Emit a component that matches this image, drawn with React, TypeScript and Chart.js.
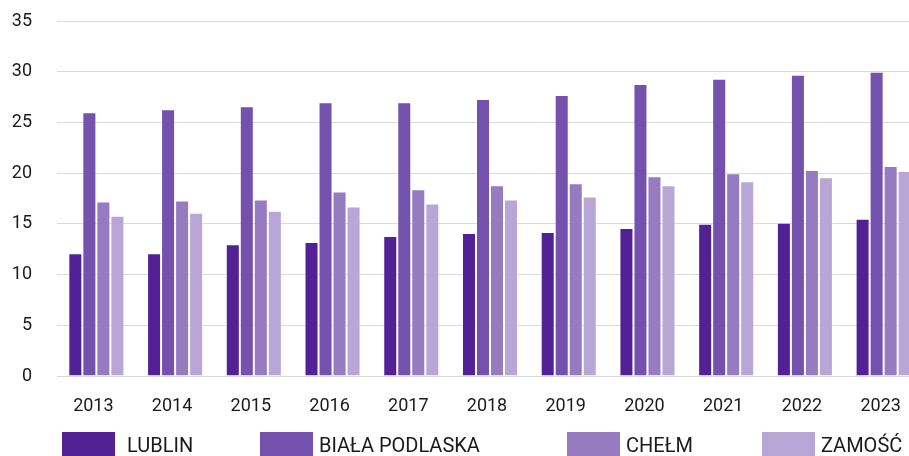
import React, { useEffect, useRef } from "react";
import { Chart, registerables } from "chart.js";

Chart.register(...registerables);

const years = ["2013", "2014", "2015", "2016", "2017", "2018", "2019", "2020", "2021", "2022", "2023"];
const lublin = [12.1, 12.1, 13.0, 13.2, 13.8, 14.1, 14.2, 14.6, 15.0, 15.1, 15.5];
const bialaPodlaska = [26.0, 26.3, 26.6, 27.0, 27.0, 27.3, 27.7, 28.8, 29.3, 29.7, 30.0];
const chelm = [17.2, 17.3, 17.4, 18.2, 18.4, 18.8, 19.0, 19.7, 20.0, 20.3, 20.7];
const zamosc = [15.8, 16.1, 16.3, 16.7, 17.0, 17.4, 17.7, 18.8, 19.2, 19.6, 20.2];
const seriesNames = ["LUBLIN", "BIAŁA PODLASKA", "CHEŁM", "ZAMOŚĆ"];
const seriesColors = ["#522196", "#7451ac", "#967bc0", "#b8a7d6"];
const yTicks = [0, 5, 10, 15, 20, 25, 30, 35];

const legendBoxLeft = [62, 260, 567, 762];
const legendTextGap = [65, 59, 59, 59];

const FONT = "Roboto, 'Noto Sans', sans-serif";

export default function App() {
  const canvasRef = useRef<HTMLCanvasElement | null>(null);

  useEffect(() => {
    if (!canvasRef.current) return;
    const seriesValues = [lublin, bialaPodlaska, chelm, zamosc];
    const chart = new Chart(canvasRef.current, {
      type: "bar",
      data: {
        labels: years,
        datasets: seriesNames.map((name, i) => ({
          label: name,
          data: seriesValues[i],
          backgroundColor: seriesColors[i],
          borderColor: "rgba(255,255,255,0.35)",
          borderWidth: 1,
          categoryPercentage: 0.712,
          barPercentage: 1.0,
        })),
      },
      options: {
        animation: false,
        responsive: true,
        maintainAspectRatio: false,
        layout: { padding: { top: 21, left: 0, right: 0, bottom: 0 } },
        plugins: {
          legend: { display: false },
          tooltip: { enabled: false },
        },
        scales: {
          x: {
            grid: { display: false, drawTicks: false },
            border: { display: false },
            ticks: {
              color: "#1a1a1a",
              font: { family: FONT, size: 18 },
              padding: 20,
              labelOffset: -3,
              maxRotation: 0,
              autoSkip: false,
            },
            afterFit: (scale: any) => {
              scale.height = 80;
              scale.paddingLeft = 0;
              scale.paddingRight = 0;
            },
          },
          y: {
            min: 0,
            max: 35,
            afterBuildTicks: (scale: any) => {
              scale.ticks = yTicks.map((v) => ({ value: v }));
            },
            grid: { color: "#dadada", lineWidth: 1, drawTicks: false },
            border: { display: false },
            ticks: {
              color: "#1a1a1a",
              font: { family: FONT, size: 18 },
              padding: 25,
            },
            afterFit: (scale: any) => {
              scale.width = 57;
              scale.paddingTop = 0;
              scale.paddingBottom = 0;
            },
          },
        },
      },
    });
    return () => chart.destroy();
  }, []);

  return (
    <div
      style={{
        position: "fixed",
        left: 0,
        top: 0,
        width: 909,
        height: 456,
        overflow: "hidden",
        background: "#ffffff",
      }}
    >
      <div style={{ position: "absolute", left: 0, top: 0, width: 923, height: 456 }}>
        <canvas ref={canvasRef} />
      </div>
      {seriesNames.map((name, i) => (
        <React.Fragment key={name}>
          <div
            style={{
              position: "absolute",
              left: legendBoxLeft[i],
              top: 432,
              width: 53,
              height: 26,
              background: seriesColors[i],
            }}
          />
          <div
            style={{
              position: "absolute",
              left: legendBoxLeft[i] + legendTextGap[i],
              top: 432,
              height: 26,
              lineHeight: "26px",
              fontFamily: FONT,
              fontSize: 20,
              color: "#1a1a1a",
              whiteSpace: "nowrap",
            }}
          >
            {name}
          </div>
        </React.Fragment>
      ))}
    </div>
  );
}
